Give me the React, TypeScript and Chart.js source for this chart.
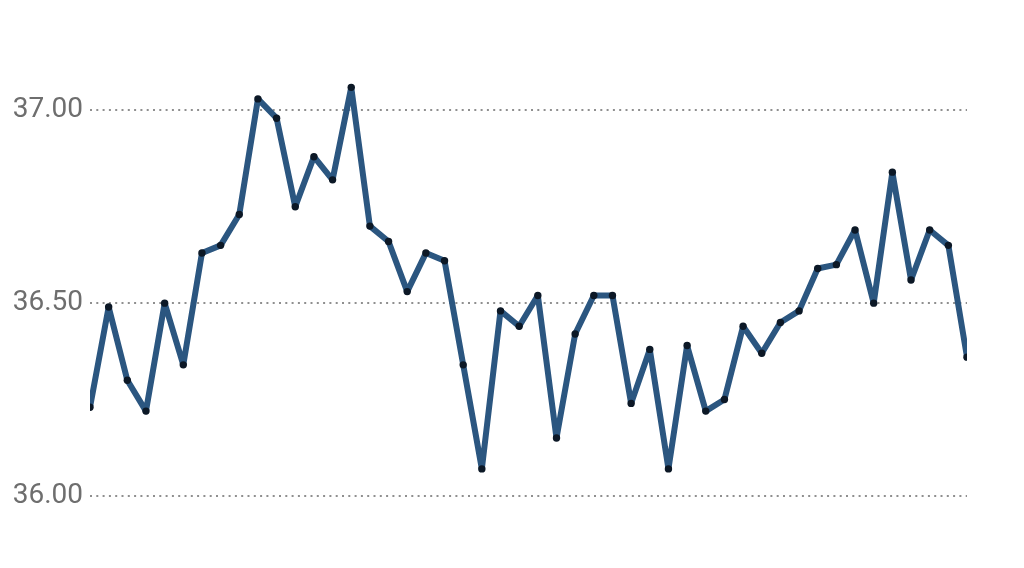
import React, { useEffect, useRef } from "react";
import { Chart, registerables } from "chart.js";

Chart.register(...registerables);

const categories: string[] = Array.from({ length: 48 }, (_, i) => String(i + 1));
const seriesValues: number[] = [
  36.23, 36.49, 36.30, 36.22, 36.50, 36.34, 36.63, 36.65, 36.73, 37.03,
  36.98, 36.75, 36.88, 36.82, 37.06, 36.70, 36.66, 36.53, 36.63, 36.61,
  36.34, 36.07, 36.48, 36.44, 36.52, 36.15, 36.42, 36.52, 36.52, 36.24,
  36.38, 36.07, 36.39, 36.22, 36.25, 36.44, 36.37, 36.45, 36.48, 36.59,
  36.60, 36.69, 36.50, 36.84, 36.56, 36.69, 36.65, 36.36,
];
const tickValues: number[] = [36.0, 36.5, 37.0];

export default function App() {
  const ref = useRef<HTMLCanvasElement | null>(null);

  useEffect(() => {
    if (!ref.current) return;
    const chart = new Chart(ref.current, {
      type: "line",
      data: {
        labels: categories,
        datasets: [
          {
            data: seriesValues,
            borderColor: "#2b5680",
            borderWidth: 6,
            borderJoinStyle: "round",
            borderCapStyle: "round",
            tension: 0,
            pointRadius: 3.7,
            pointBackgroundColor: "#0c1826",
            pointBorderColor: "#0c1826",
            pointBorderWidth: 0,
            clip: 0,
          },
        ],
      },
      options: {
        animation: false,
        responsive: true,
        maintainAspectRatio: false,
        layout: { padding: { left: 0, right: 57, top: 16.5, bottom: 16.5 } },
        plugins: { legend: { display: false }, tooltip: { enabled: false } },
        scales: {
          x: { display: false, offset: false },
          y: {
            min: 35.8746,
            max: 37.2249,
            border: { display: false, dash: [2, 4.3] },
            grid: {
              color: "#8f8f8f",
              lineWidth: 2,
              drawTicks: false,
              tickLength: 0,
            },
            ticks: {
              padding: 7,
              color: "#6e6e6e",
              font: { family: "Roboto", size: 28 },
              callback: (v: any) => Number(v).toFixed(2),
            },
            afterBuildTicks: (scale: any) => {
              scale.ticks = tickValues.map((value) => ({ value }));
            },
            afterFit: (scale: any) => {
              scale.width = 90;
            },
          },
        },
      },
    });
    return () => chart.destroy();
  }, []);

  return (
    <div style={{ position: "absolute", left: 0, top: 0, width: 1024, height: 568, background: "#fff" }}>
      <canvas ref={ref} />
    </div>
  );
}
